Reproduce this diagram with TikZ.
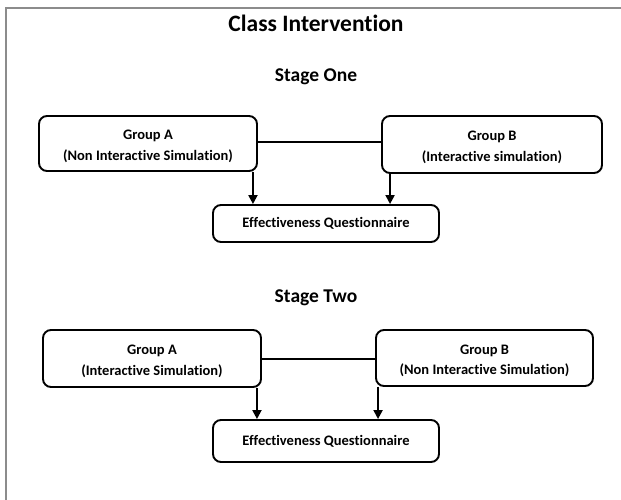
\documentclass[tikz,border=0pt]{standalone}
\usepackage{fontspec}
\setmainfont{Carlito}[Ligatures=NoCommon]
\usetikzlibrary{arrows.meta}
\newcommand\lowstrut{\rule{0pt}{15.5pt}}
\tikzset{
  grp/.style={draw=black, line width=1.9pt, rounded corners=8pt, align=center,
    font=\bfseries\fontsize{14.5}{20.5}\selectfont, inner sep=0pt},
  ttl/.style={anchor=base, font=\bfseries\fontsize{23.5}{28}\selectfont},
  stg/.style={anchor=base, font=\bfseries\fontsize{19.5}{23}\selectfont},
  conn/.style={line width=2pt},
  arr/.style={line width=2pt, -{Triangle[length=9pt,width=9pt]}},
  frame/.style={draw=black!45, line width=1.3pt}
}
\begin{document}
\begin{tikzpicture}[x=1pt,y=-1pt]
\useasboundingbox (0,0) rectangle (621,500);
\draw[frame] (6,500) -- (6,8) -- (621,8);
\node[ttl] (title) at (316,32) {Class Intervention};
\node[stg] (s1) at (316,82) {Stage One};
\node[stg] (s2) at (316,302) {Stage Two};
% stage one
\node[grp, minimum width=218pt, minimum height=55pt] (A1) at (148,143.5) {\lowstrut Group A\\(Non Interactive Simulation)};
\node[grp, minimum width=220pt, minimum height=57pt] (B1) at (492,144.5) {\lowstrut Group B\\(Interactive simulation)};
\node[grp, minimum width=226pt, minimum height=37pt] (E1) at (326,223.5) {Effectiveness Questionnaire};
\draw[conn] ([yshift=1.5pt]A1.east) -- ([yshift=1.5pt]A1.east -| B1.west);
\draw[arr] ([xshift=-5pt]A1.south east) -- ([xshift=-5pt]A1.south east |- E1.north);
\draw[arr] ([xshift=9pt]B1.south west) -- ([xshift=9pt]B1.south west |- E1.north);
% stage two
\node[grp, minimum width=218pt, minimum height=57pt] (A2) at (152,358.5) {\lowstrut Group A\\(Interactive Simulation)};
\node[grp, minimum width=217pt, minimum height=56pt] (B2) at (484.5,358) {\lowstrut Group B\\(Non Interactive Simulation)};
\node[grp, minimum width=226pt, minimum height=42pt] (E2) at (326,441) {Effectiveness Questionnaire};
\draw[conn] ([yshift=-0.5pt]A2.east) -- ([yshift=-0.5pt]A2.east -| B2.west);
\draw[arr] ([xshift=-5pt]A2.south east) -- ([xshift=-5pt]A2.south east |- E2.north);
\draw[arr] ([xshift=3pt]B2.south west) -- ([xshift=3pt]B2.south west |- E2.north);
\end{tikzpicture}
\end{document}
